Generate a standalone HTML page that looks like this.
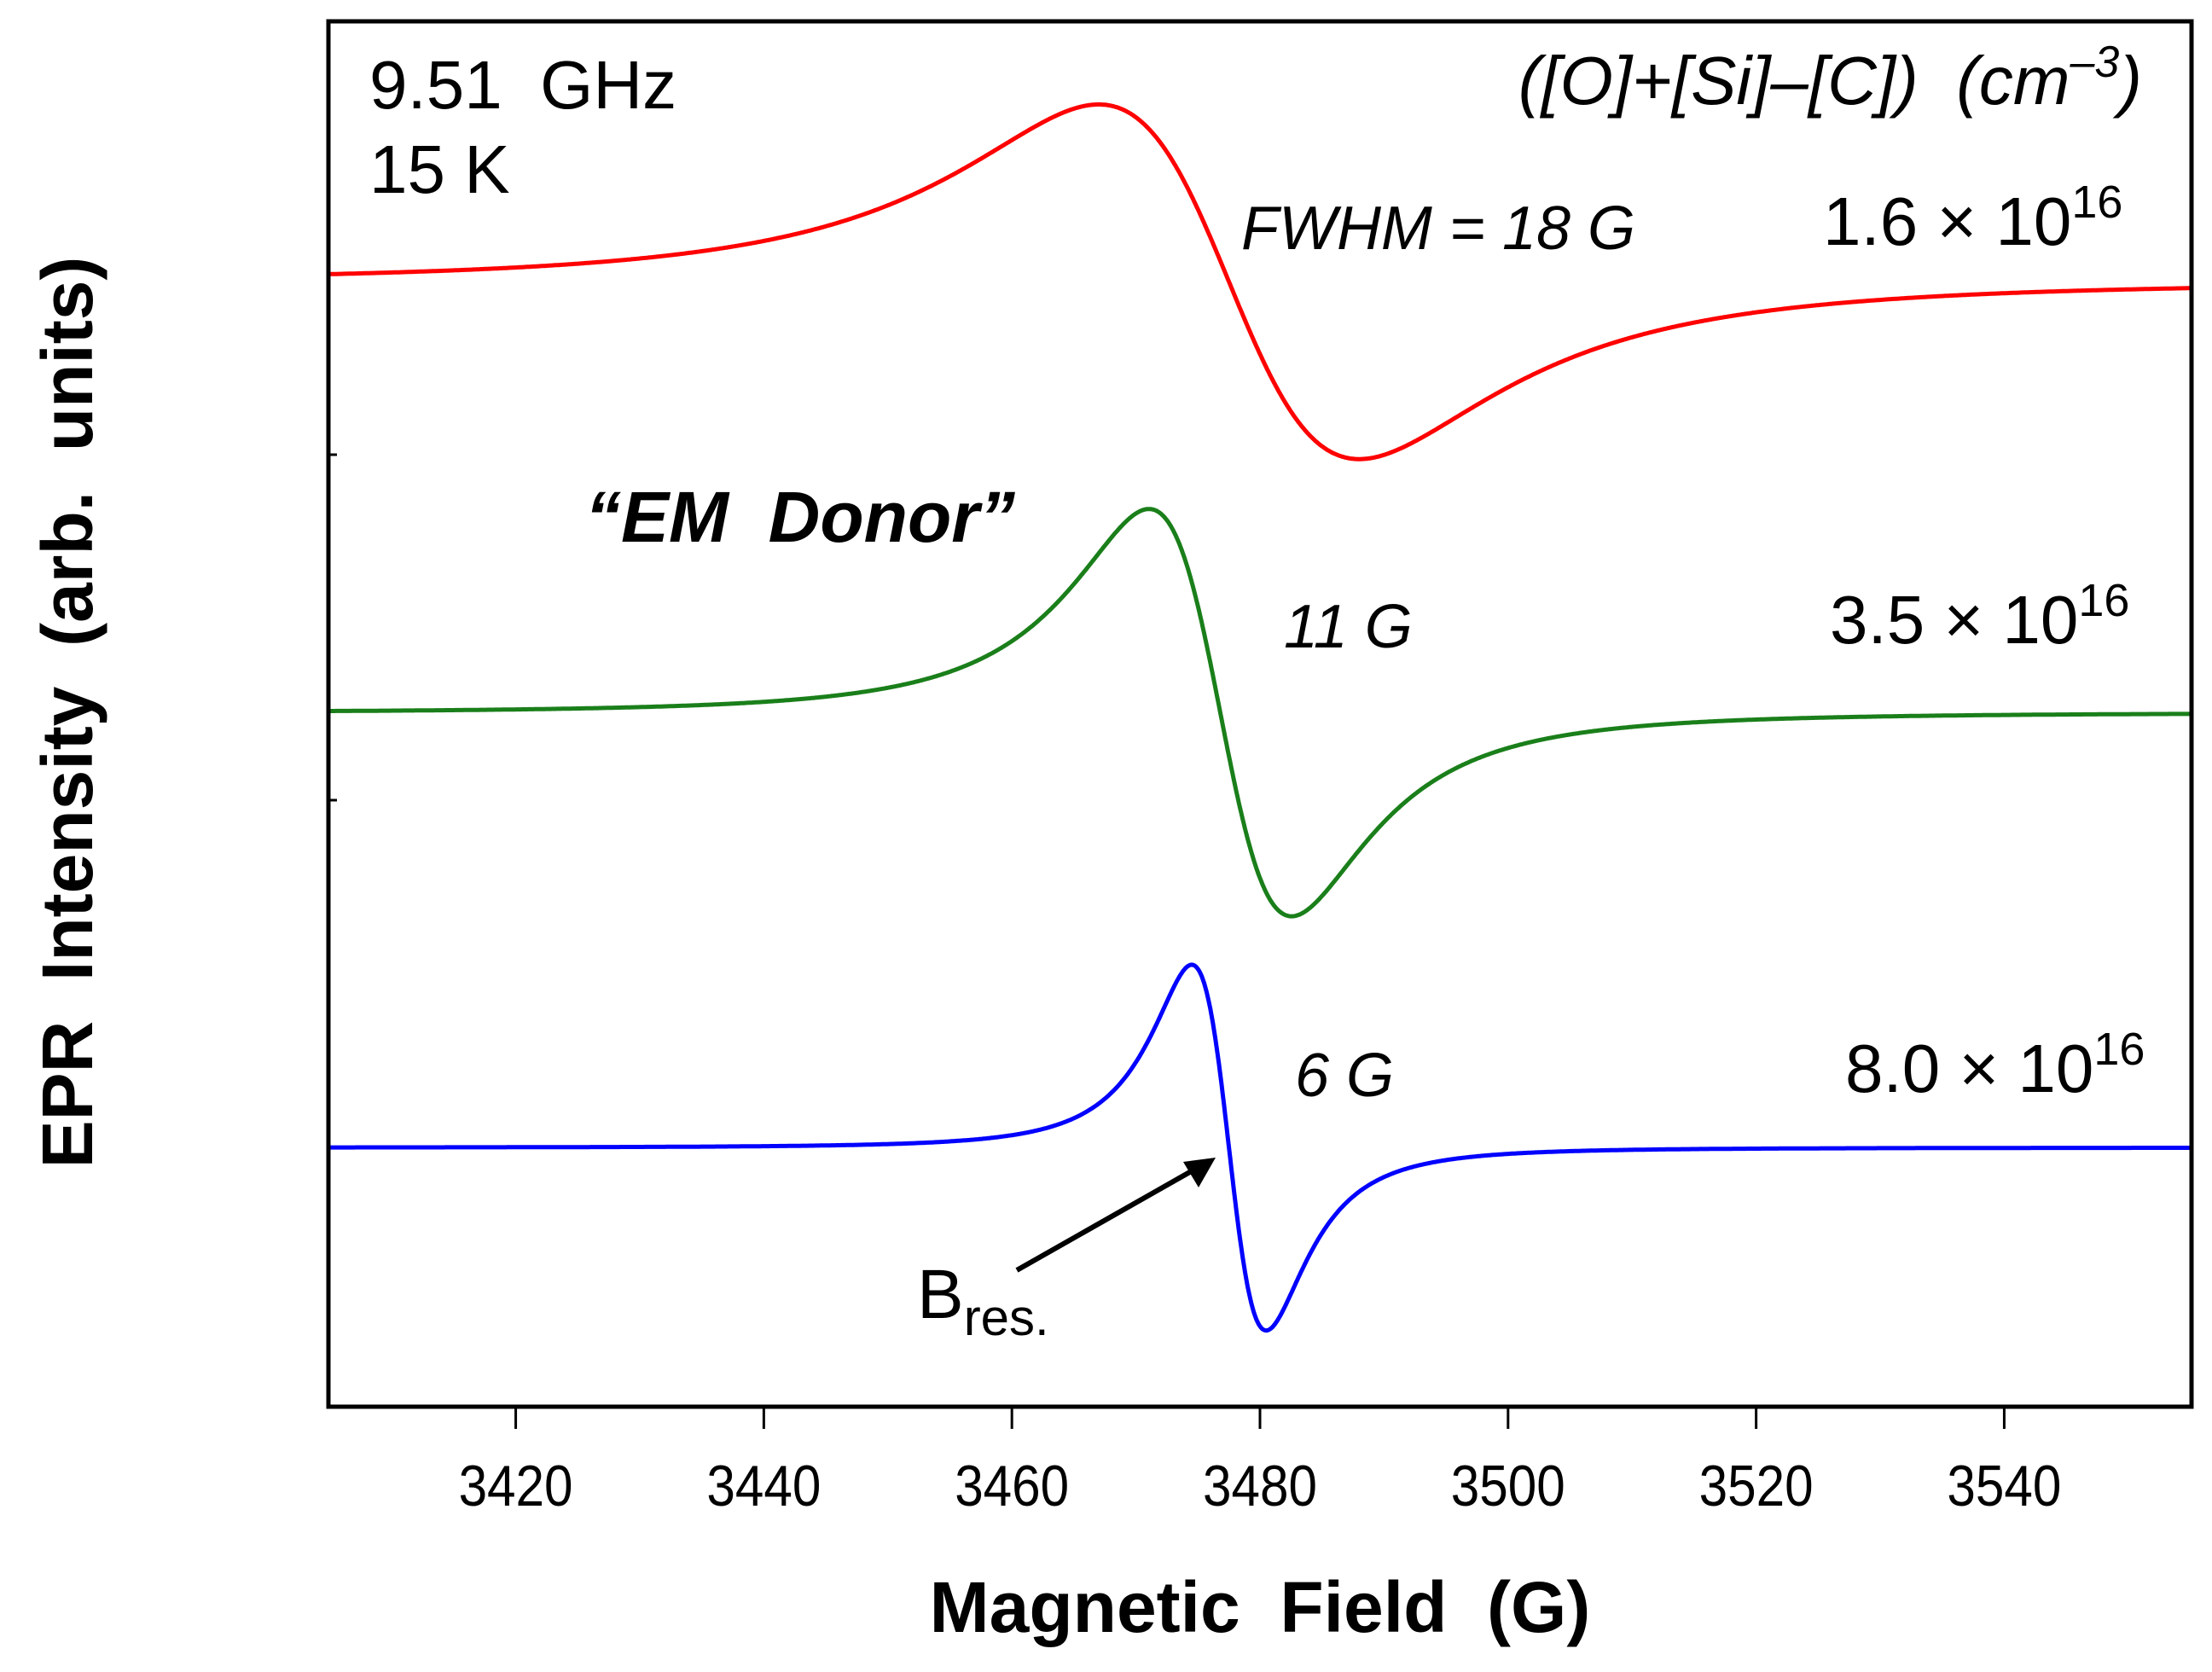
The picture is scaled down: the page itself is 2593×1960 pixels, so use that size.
<!DOCTYPE html>
<html><head><meta charset="utf-8"><style>
html,body{margin:0;padding:0;background:#fff;}
svg{display:block;font-family:"Liberation Sans",Arial,sans-serif;}
text{white-space:pre;}
</style></head><body>
<svg id="chart" width="2593" height="1960" viewBox="0 0 2593 1960" xml:space="preserve">
<g id="plot"></g>
<rect x="385" y="25" width="2184" height="1624" fill="none" stroke="#000" stroke-width="5"/>
<g id="xticks"></g>
<line x1="385" y1="533" x2="395" y2="533" stroke="#000" stroke-width="3"/>
<line x1="385" y1="938" x2="395" y2="938" stroke="#000" stroke-width="3"/>
<text x="1477" y="1913" font-size="84" font-weight="bold" text-anchor="middle">Magnetic  Field  (G)</text>
<text transform="translate(108,835) rotate(-90)" font-size="84" font-weight="bold" text-anchor="middle">EPR  Intensity  (arb.  units)</text>
<text x="433" y="127" font-size="80">9.51  GHz</text>
<text x="433" y="226" font-size="80">15 K</text>
<text x="2511" y="122" font-size="80" font-style="italic" text-anchor="end">([O]+[Si]–[C])  (cm<tspan font-size="52" dy="-32">–3</tspan><tspan dy="32">)</tspan></text>
<text x="1455" y="292" font-size="72" font-style="italic">FWHM = 18 G</text>
<text x="2137" y="287" font-size="80">1.6 × 10<tspan font-size="54" dy="-32">16</tspan></text>
<text x="686" y="635" font-size="84" font-weight="bold" font-style="italic">“EM  Donor”</text>
<text x="1505" y="759" font-size="72" font-style="italic">11 G</text>
<text x="2145" y="754" font-size="80">3.5 × 10<tspan font-size="54" dy="-32">16</tspan></text>
<text x="1518" y="1285" font-size="72" font-style="italic">6 G</text>
<text x="2163" y="1280" font-size="80">8.0 × 10<tspan font-size="54" dy="-32">16</tspan></text>
<line x1="1192" y1="1489" x2="1400" y2="1371" stroke="#000" stroke-width="6"/>
<polygon points="1425,1357 1387,1362 1405,1392" fill="#000"/>
<text x="1075" y="1545" font-size="82">B<tspan font-size="60" dy="20">res.</tspan></text>
</svg>
<script>
const xTicks = [3420, 3440, 3460, 3480, 3500, 3520, 3540];
const seriesNames = ["red-spectrum", "green-spectrum", "blue-spectrum"];
const seriesColors = ["#ff0000", "#1a7f1a", "#0000ff"];
const seriesCenters = [3477.5, 3476.8, 3477.5];
const seriesPeakToPeak = [21, 11.5, 6];
const seriesAmplitudes = [12.8, 14.7, 13.2];
const seriesBaselines = [81.2, 50.1, 18.7];
const xDomain = [3404.9, 3555.1];
const yDomain = [0, 100];

const L = 385, R = 2569, T = 25, B = 1649;
const NS = "http://www.w3.org/2000/svg";
function xs(v){ return L + (v - xDomain[0]) / (xDomain[1] - xDomain[0]) * (R - L); }
function ys(v){ return B - (v - yDomain[0]) / (yDomain[1] - yDomain[0]) * (B - T); }
function shape(u){ return (-u * (2/3) / Math.pow(1 + u*u/3, 2)) / 0.375; }

const xg = document.getElementById('xticks');
xTicks.forEach(t => {
  const ln = document.createElementNS(NS, 'line');
  
  
  ln.setAttribute('x1', xs(t)); ln.setAttribute('x2', xs(t));
  ln.setAttribute('y1', B); ln.setAttribute('y2', B + 26);
  ln.setAttribute('stroke', '#000'); ln.setAttribute('stroke-width', '3');
  xg.appendChild(ln);
  const tx = document.createElementNS(NS, 'text');
  
  
  tx.setAttribute('x', xs(t)); tx.setAttribute('y', 1765);
  tx.setAttribute('font-size', '68');
  tx.setAttribute('text-anchor', 'middle');
  tx.setAttribute('textLength', '134');
  tx.setAttribute('lengthAdjust', 'spacingAndGlyphs');
  tx.textContent = t;
  xg.appendChild(tx);
});

const pg = document.getElementById('plot');
seriesNames.forEach((nm, i) => {
  let d = '';
  const hw = seriesPeakToPeak[i] / 2;
  for (let k = 0; k <= 1500; k++) {
    const b = xDomain[0] + (xDomain[1] - xDomain[0]) * k / 1500;
    const v = seriesBaselines[i] + seriesAmplitudes[i] * shape((b - seriesCenters[i]) / hw);
    d += (k ? 'L' : 'M') + xs(b).toFixed(1) + ',' + ys(v).toFixed(1);
  }
  const p = document.createElementNS(NS, 'path');
  
  
  p.setAttribute('d', d);
  p.setAttribute('fill', 'none');
  p.setAttribute('stroke', seriesColors[i]);
  p.setAttribute('stroke-width', '5');
  pg.appendChild(p);
});
</script>
</body></html>
